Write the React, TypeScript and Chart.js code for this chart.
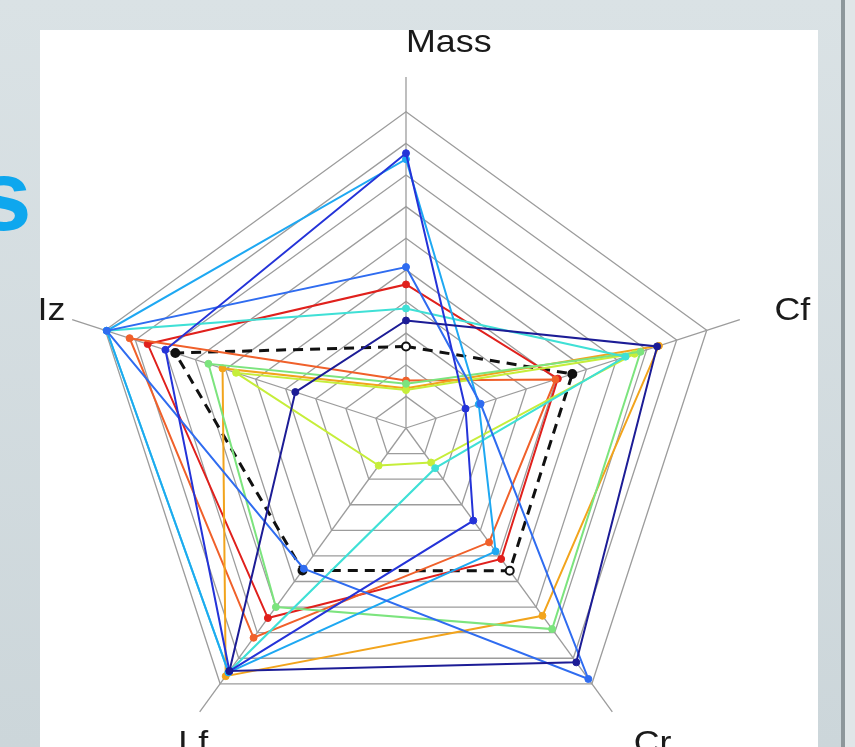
import React, { useEffect, useRef } from "react";
import { Chart, registerables } from "chart.js";

Chart.register(...registerables);

const axisLabels = ["Mass", "Cf", "Cr", "Lf", "Iz"];

// values on a 0..10 scale (outer ring = 10), order: Mass, Cf, Cr, Lf, Iz
const navyValues = [3.4, 8.35, 9.16, 9.5, 3.68];
const blueValues = [8.69, 1.98, 3.62, 9.5, 8.0];
const royalValues = [5.09, 2.48, 9.81, 5.5, 9.95];
const skyValues = [8.5, 2.42, 4.82, 9.55, 9.95];
const cyanValues = [3.78, 7.3, 1.57, 9.55, 9.95];
const greenValues = [1.4, 7.8, 7.86, 7.0, 6.57];
const limeValues = [1.2, 7.6, 1.35, 1.47, 5.65];
const orangeValues = [1.26, 8.41, 7.34, 9.7, 6.1];
const orangeRedValues = [1.5, 4.97, 4.47, 8.2, 9.19];
const redValues = [4.54, 5.05, 5.12, 7.43, 8.59];
const meanValues = [2.58, 5.53, 5.58, 5.57, 7.67];

const seriesNames = [
  "navy", "blue", "royal", "sky", "cyan", "green", "lime", "orange", "orangeRed", "red",
];
const seriesValues = [
  navyValues, blueValues, royalValues, skyValues, cyanValues,
  greenValues, limeValues, orangeValues, orangeRedValues, redValues,
];
const seriesColors = [
  "#1c1c96", "#2433d8", "#2f6cf0", "#1ea8f2", "#3fe0d6",
  "#7ce47e", "#c6ee3a", "#f2a41c", "#f0602a", "#e0201c",
];

const labelPlugin = {
  id: "axisTitles",
  afterDraw(chart: any) {
    const s = chart.scales.r;
    const ctx = chart.ctx;
    axisLabels.forEach((lab, i) => {
      const p = s.getPointPosition(i, s.getDistanceFromCenterForValue(12.25));
      ctx.save();
      ctx.fillStyle = "#1a1a1a";
      ctx.font = "32px 'Liberation Sans', Arial, sans-serif";
      ctx.textAlign = "left";
      ctx.textBaseline = "middle";
      ctx.translate(p.x, p.y + 3);
      ctx.scale(1.12, 1);
      ctx.fillText(lab, 0, 0);
      ctx.restore();
    });
  },
};

function RadarChart() {
  const ref = useRef<HTMLCanvasElement | null>(null);
  useEffect(() => {
    if (!ref.current) return;
    const datasets: any[] = seriesValues.map((vals, i) => ({
      label: seriesNames[i],
      data: vals,
      borderColor: seriesColors[i],
      backgroundColor: seriesColors[i],
      pointBackgroundColor: seriesColors[i],
      pointBorderColor: seriesColors[i],
      borderWidth: 2,
      pointRadius: 3.5,
      pointBorderWidth: 1,
      fill: false,
    }));
    datasets.push({
      label: "mean",
      data: meanValues,
      borderColor: "#111111",
      backgroundColor: "#111111",
      pointBackgroundColor: ["#ffffff", "#111111", "#ffffff", "#111111", "#111111"],
      pointBorderColor: "#111111",
      borderWidth: 3,
      borderDash: [10, 7],
      pointRadius: 4,
      pointBorderWidth: 2,
      fill: false,
    });
    const chart = new Chart(ref.current, {
      type: "radar",
      data: { labels: axisLabels, datasets },
      options: {
        animation: false,
        responsive: false,
        maintainAspectRatio: false,
        layout: { padding: { left: 55, top: 77, right: 98, bottom: 21 } },
        plugins: { legend: { display: false }, tooltip: { enabled: false } },
        elements: { line: { tension: 0 } },
        scales: {
          r: {
            min: 0,
            max: 11.1,
            ticks: { display: false, stepSize: 1 },
            grid: {
              color: (c: any) =>
                c.tick && c.tick.value > 0.5 && c.tick.value < 10.05 ? "#9c9c9c" : "rgba(0,0,0,0)",
              lineWidth: 1.3,
            },
            angleLines: { color: "#9c9c9c", lineWidth: 1.3 },
            pointLabels: { display: false },
          },
        },
      },
      plugins: [labelPlugin],
    });
    return () => chart.destroy();
  }, []);
  return (
    <canvas
      ref={ref}
      width={855}
      height={800}
      style={{ position: "absolute", left: 0, top: 0, width: 855, height: 800 }}
    />
  );
}

export default function App() {
  return (
    <div
      style={{
        position: "fixed",
        left: 0,
        top: 0,
        width: 855,
        height: 747,
        overflow: "hidden",
        background: "linear-gradient(to bottom, #dae2e5 0%, #ccd6da 100%)",
        fontFamily: "'Liberation Sans', Arial, sans-serif",
      }}
    >
      <div
        style={{
          position: "absolute",
          left: -24,
          top: 145,
          fontSize: 100,
          lineHeight: "100px",
          fontWeight: "bold",
          color: "#0ea7ee",
        }}
      >
        s
      </div>
      <div style={{ position: "absolute", left: 40, top: 30, width: 778, height: 760, background: "#ffffff" }} />
      <div style={{ position: "absolute", left: 841, top: 0, width: 4, height: 747, background: "#8d979b" }} />
      <div style={{ position: "absolute", left: 845, top: 0, width: 10, height: 747, background: "#e0e6e8" }} />
      <RadarChart />
    </div>
  );
}
